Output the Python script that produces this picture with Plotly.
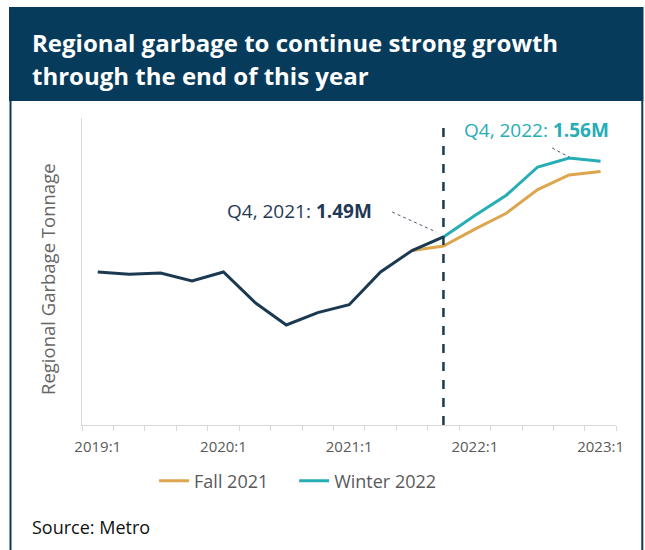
import plotly.graph_objects as go

# ---- data ----
quarters = ["2019:1", "2019:2", "2019:3", "2019:4",
            "2020:1", "2020:2", "2020:3", "2020:4",
            "2021:1", "2021:2", "2021:3", "2021:4",
            "2022:1", "2022:2", "2022:3", "2022:4",
            "2023:1"]
history_vals = [1.459, 1.457, 1.458, 1.451, 1.459, 1.432, 1.412, 1.423,
                1.430, 1.459, 1.478, 1.490]          # 2019:1 .. 2021:4
fall_vals = [1.478, 1.482, 1.497, 1.511, 1.532, 1.545, 1.548]   # 2021:3 .. 2023:1
winter_vals = [1.490, 1.509, 1.527, 1.552, 1.560, 1.557]        # 2021:4 .. 2023:1
label_quarters = ["2019:1", "2020:1", "2021:1", "2022:1", "2023:1"]

idx = list(range(len(quarters)))
hist_x = idx[:len(history_vals)]
fall_x = idx[len(quarters) - len(fall_vals):]
winter_x = idx[len(quarters) - len(winter_vals):]

NAVY = "#063b5c"
DARK = "#1b3a52"
TEAL = "#27adb5"
ORANGE = "#dca54e"
GRAY = "#595959"
FONT = "Open Sans"

H = 550
W = 652
SX, OX = 0.975, 9.0
def px(x):
    return ((x - OX) / SX) / W
def py(y):
    return 1 - y / H

fig = go.Figure()
fig.add_trace(go.Scatter(x=fall_x, y=fall_vals, mode="lines", name="Fall 2021",
                         legend="legend", line=dict(color=ORANGE, width=3)))
fig.add_trace(go.Scatter(x=winter_x, y=winter_vals, mode="lines", name="Winter 2022",
                         legend="legend2", line=dict(color=TEAL, width=3)))
fig.add_trace(go.Scatter(x=hist_x, y=history_vals, mode="lines", name="History",
                         showlegend=False, line=dict(color=DARK, width=3)))

shapes = [
    # title band
    dict(type="rect", xref="paper", yref="paper", x0=px(10), x1=px(644), y0=py(101), y1=py(7),
         fillcolor=NAVY, line=dict(width=0), layer="below"),
    # frame
    dict(type="rect", xref="paper", yref="paper", x0=px(11.5), x1=px(643), y0=py(560), y1=py(8),
         fillcolor="rgba(0,0,0,0)", line=dict(color=NAVY, width=2), layer="below"),
    # forecast divider
    dict(type="line", xref="x", yref="paper", x0=hist_x[-1], x1=hist_x[-1],
         y0=py(425), y1=py(125), line=dict(color=DARK, width=2.5, dash="dash")),
    # leader lines
    dict(type="line", xref="x", yref="y", x0=9.37, y0=1.5121, x1=10.77, y1=1.4944,
         line=dict(color="#4a5a6a", width=1, dash="dot")),
    dict(type="line", xref="x", yref="y", x0=14.46, y0=1.5688, x1=15.0, y1=1.5608,
         line=dict(color="#4a5a6a", width=1, dash="dot")),
]

annotations = [
    dict(text="Regional garbage to continue strong growth", xref="paper", yref="paper",
         x=px(31), y=py(43), xanchor="left", yanchor="middle", showarrow=False,
         font=dict(family=FONT, size=24, color="white", weight="bold")),
    dict(text="through the end of this year", xref="paper", yref="paper",
         x=px(31), y=py(75), xanchor="left", yanchor="middle", showarrow=False,
         font=dict(family=FONT, size=24, color="white", weight="bold")),
    dict(text="Regional Garbage Tonnage", xref="paper", yref="paper",
         x=px(48), y=py(279), xanchor="center", yanchor="middle", textangle=-90,
         showarrow=False, font=dict(family=FONT, size=18.5, color="#666666")),
    dict(text="Source: Metro", xref="paper", yref="paper",
         x=px(31), y=py(527), xanchor="left", yanchor="middle", showarrow=False,
         font=dict(family=FONT, size=18, color="#111111")),
    dict(text="Q4, 2021: <b>1.49M</b>", xref="x", yref="y", x=8.80, y=1.513,
         xanchor="right", yanchor="middle", showarrow=False,
         font=dict(family=FONT, size=19, color="#1f3a56")),
    dict(text="Q4, 2022: <b>1.56M</b>", xref="x", yref="y", x=11.60, y=1.5848,
         xanchor="left", yanchor="middle", showarrow=False,
         font=dict(family=FONT, size=19, color=TEAL)),
]

legend_common = dict(orientation="h", xanchor="left", yanchor="middle",
                     font=dict(family=FONT, size=18, color=GRAY),
                     bgcolor="rgba(0,0,0,0)", itemwidth=30)

fig.update_layout(
    width=W, height=H,
    margin=dict(l=0, r=0, t=0, b=0),
    paper_bgcolor="white", plot_bgcolor="white",
    shapes=shapes, annotations=annotations,
    showlegend=True,
    legend=dict(x=px(155), y=py(481), **legend_common),
    legend2=dict(x=px(295), y=py(481), **legend_common),
    xaxis=dict(domain=[px(83), px(617)], range=[-0.5, len(quarters) - 0.5],
               tickmode="array",
               tickvals=[quarters.index(q) for q in label_quarters],
               ticktext=label_quarters, ticks="", ticklabelstandoff=8,
               tickfont=dict(family=FONT, size=15, color=GRAY),
               showgrid=False, zeroline=False,
               showline=True, linecolor="#d9d9d9", linewidth=1,
               minor=dict(tickmode="linear", tick0=-0.5, dtick=1, ticks="outside",
                          ticklen=5, tickcolor="#d9d9d9", showgrid=False)),
    yaxis=dict(domain=[py(425), py(118)], range=[1.3234, 1.5954],
               showticklabels=False, ticks="", showgrid=False, zeroline=False,
               showline=True, linecolor="#d9d9d9", linewidth=1),
)

fig.write_html("out.html", config={"displayModeBar": False},
               post_script="document.body.style.margin='0';")
